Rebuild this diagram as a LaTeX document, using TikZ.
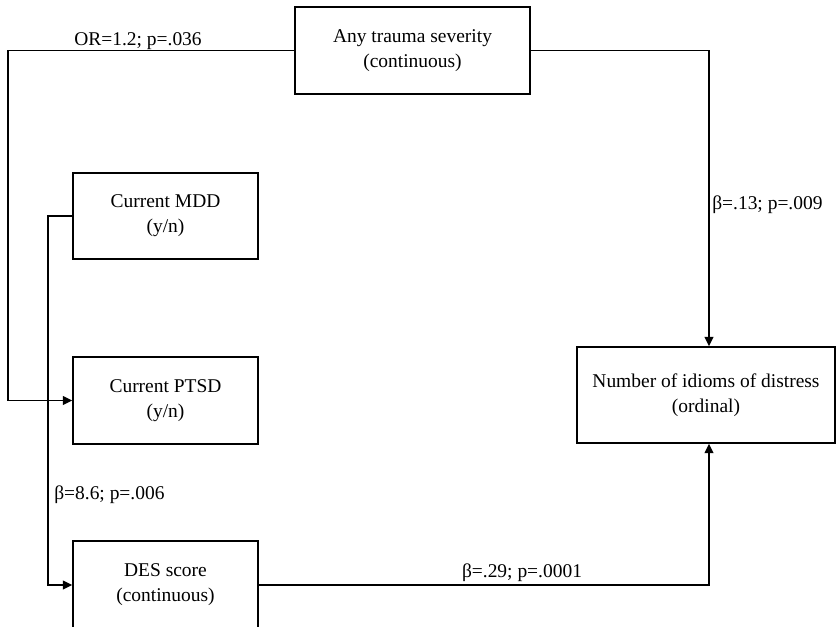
\documentclass[tikz,border=0pt]{standalone}
\usepackage{fontspec}
\setmainfont{Liberation Serif}
\usetikzlibrary{arrows.meta}
\begin{document}
\begin{tikzpicture}[x=0.75pt,y=-0.75pt,
  txt/.style={font=\fontsize{14.6}{18.75}\selectfont},
  box/.style={txt, draw, line width=1.1pt, inner sep=0pt, align=center},
  lbl/.style={txt, inner sep=0pt},
  conn/.style={line width=1.1pt},
  arr/.style={conn, -{Triangle[length=7pt,width=6.5pt]}}]
\useasboundingbox (0,0) rectangle (836,626);
\clip (0,0) rectangle (836,626);
% boxes
\node[box, minimum width=176.25pt, minimum height=65.25pt] (trauma) at (412.5,50.5) {Any trauma severity\\(continuous)};
\node[box, minimum width=138.75pt, minimum height=64.5pt] (mdd) at (165.5,216) {Current MDD\\(y/n)};
\node[box, minimum width=138.75pt, minimum height=65.25pt] (ptsd) at (165.5,400.5) {Current PTSD\\(y/n)};
\node[box, minimum width=138.75pt, minimum height=66pt] (des) at (165.5,585) {DES score\\(continuous)};
\node[box, minimum width=193.5pt, minimum height=72pt] (out) at (706,395) {Number of idioms of distress\\(ordinal)};
% corner coordinates
\coordinate (c1) at (8,50.5);
\coordinate (c2) at (48,216);
\coordinate (c3) at (709,50.5);
\coordinate (c4) at (709,585);
% connectors
\draw[arr] (trauma.west) -- (c1) |- (ptsd.west);
\draw[arr] (mdd.west) -- (c2) |- (des.west);
\draw[arr] (trauma.east) -- (c3) -- (c3 |- out.north);
\draw[arr] (des.east) -- (c4) -- (c4 |- out.south);
% labels
\node[lbl] (l1) at (138,41) {OR=1.2; p=.036};
\node[lbl, anchor=west] (l2) at (712,205) {β=.13; p=.009};
\node[lbl, anchor=west] (l3) at (54,495) {β=8.6; p=.006};
\node[lbl] (l4) at (522,573) {β=.29; p=.0001};
\end{tikzpicture}
\end{document}
